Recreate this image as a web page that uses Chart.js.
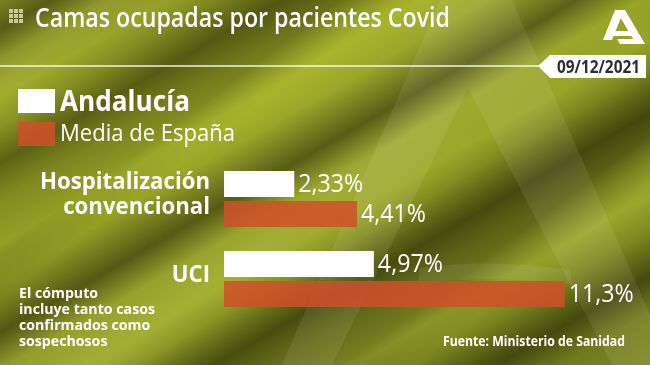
<!DOCTYPE html>
<html>
<head>
<meta charset="utf-8">
<script src="https://cdn.jsdelivr.net/npm/chart.js@4.4.0/dist/chart.umd.min.js"></script>
<style>
  html, body { margin: 0; padding: 0; }
  body {
    width: 650px; height: 365px; overflow: hidden; position: relative;
    font-family: 'Open Sans', 'Noto Sans', sans-serif; color: #fff;
    background:
      linear-gradient(150deg,
        rgba(0,0,0,0) 0%, rgba(30,35,0,.45) 4%, rgba(0,0,0,0) 8%,
        rgba(205,220,60,.28) 13%, rgba(0,0,0,0) 17%, rgba(30,35,0,.42) 22%,
        rgba(0,0,0,0) 27%, rgba(210,225,60,.34) 33%, rgba(0,0,0,0) 38%,
        rgba(20,25,0,.52) 45%, rgba(0,0,0,0) 50%, rgba(200,215,60,.26) 56%,
        rgba(0,0,0,0) 60%, rgba(25,30,0,.5) 66%, rgba(0,0,0,0) 71%,
        rgba(210,225,70,.32) 77%, rgba(0,0,0,0) 82%, rgba(20,25,0,.52) 88%,
        rgba(0,0,0,0) 93%, rgba(200,210,60,.22) 100%),
      linear-gradient(143deg,
        rgba(0,0,0,0) 0%, rgba(235,240,120,.14) 10%, rgba(0,0,0,0) 14%,
        rgba(20,20,0,.28) 30%, rgba(0,0,0,0) 35%, rgba(235,240,120,.16) 52%,
        rgba(0,0,0,0) 57%, rgba(20,20,0,.34) 73%, rgba(0,0,0,0) 79%),
      linear-gradient(160deg, #7a8220 0%, #99a427 35%, #8a9624 60%, #6a751b 100%);
  }
  .tx { position: absolute; white-space: nowrap; line-height: 1; }
  svg, canvas { position: absolute; left: 0; top: 0; }
</style>
</head>
<body>
<svg width="650" height="365" viewBox="0 0 650 365">
  <!-- watermark A -->
  <path fill="#fff" fill-opacity="0.08" fill-rule="evenodd"
        d="M440 0 L512 0 L672 365 L282 365 Z M468 88 L612 365 L332 365 Z"/>
  <path fill="#fff" fill-opacity="0.07" d="M420 268 Q490 258 570 270 L572 285 Q490 274 418 284 Z"/>
  <!-- header icon -->
  <g fill="#e3e4b8" fill-opacity="0.8">
    <rect x="9" y="9" width="4" height="4"/><rect x="14" y="9" width="4" height="4"/><rect x="19" y="9" width="4" height="4"/>
    <rect x="9" y="14" width="4" height="4"/><rect x="14" y="14" width="4" height="4"/><rect x="19" y="14" width="4" height="4"/>
    <rect x="9" y="19" width="4" height="4"/><rect x="14" y="19" width="4" height="4"/><rect x="19" y="19" width="4" height="4"/>
  </g>
  <!-- logo -->
  <g fill="#fff">
    <path d="M615 10 L624 10 L612 40 L603 40 Z"/>
    <path d="M616 10 L625 10 L645 44 L636 44 Z"/>
    <path d="M612 31 L631 31 L633 36 L610 36 Z"/>
    <path d="M617 39 L640 39 L645 44 L620 44 Z"/>
  </g>
  <!-- rule and date box -->
  <line x1="0" y1="66" x2="540" y2="66" stroke="#fff" stroke-opacity="0.9" stroke-width="1.5"/>
  <path fill="#fff" d="M538 66 L550 55 L646 55 L646 78 L550 78 Z"/>
  <!-- legend swatches -->
  <rect x="18" y="89" width="37" height="24" fill="#fff"/>
  <rect x="18" y="122" width="37" height="24" fill="rgba(207,80,41,0.85)"/>
</svg>
<canvas id="c" width="650" height="365"></canvas>

<div class="tx" id="title" style="left:35px;top:3px;font-size:27px;font-weight:600">Camas ocupadas por pacientes Covid</div>
<div class="tx" id="date" style="left:557px;top:57px;font-size:18px;font-weight:700;color:#2e2e2e">09/12/2021</div>
<div class="tx" id="lg1" style="left:60px;top:86px;font-size:28px;font-weight:700">Andalucía</div>
<div class="tx" id="lg2" style="left:60px;top:120px;font-size:24px;font-weight:400">Media de España</div>
<div class="tx note" style="left:19px;top:285px;font-size:15px;font-weight:700">El cómputo</div>
<div class="tx note" id="noteW" style="left:19px;top:301px;font-size:15px;font-weight:700">incluye tanto casos</div>
<div class="tx note" style="left:19px;top:317px;font-size:15px;font-weight:700">confirmados como</div>
<div class="tx note" style="left:19px;top:333px;font-size:15px;font-weight:700">sospechosos</div>
<div class="tx" id="src" style="left:443px;top:334px;font-size:14px;font-weight:700">Fuente: Ministerio de Sanidad</div>

<script>
const categories = [['Hospitalización', 'convencional'], ['UCI']]
const seriesNames = ['Andalucía', 'Media de España']
const andalucia = [2.33, 4.97]
const espana = [4.41, 11.3]

const WHITE = '#ffffff'
const ORANGE = 'rgba(207,80,41,0.85)'
const FONT = "'Open Sans', 'Noto Sans', sans-serif"

// squeeze html text to the width it has in the picture
function fit (el, width, origin) {
  const w = el.getBoundingClientRect().width
  const s = width / w
  el.style.transformOrigin = origin || 'left center'
  el.style.transform = 'scaleX(' + s + ')'
  return s
}
fit(document.getElementById('title'), 415)
fit(document.getElementById('date'), 83)
fit(document.getElementById('lg1'), 130)
fit(document.getElementById('lg2'), 175)
const ns = fit(document.getElementById('noteW'), 136)
document.querySelectorAll('.note').forEach(el => {
  el.style.transformOrigin = 'left center'
  el.style.transform = 'scaleX(' + ns + ')'
})
fit(document.getElementById('src'), 182)

const fmt = v => String(v).replace('.', ',') + '%'

function squeezedText (ctx, text, x, y, sx) {
  ctx.save()
  ctx.translate(x, y)
  ctx.scale(sx, 1)
  ctx.fillText(text, 0, 0)
  ctx.restore()
}

const labelsPlugin = {
  id: 'labels',
  afterDatasetsDraw (chart) {
    const ctx = chart.ctx
    const yScale = chart.scales.y
    const left = chart.chartArea.left

    // category names
    ctx.save()
    ctx.fillStyle = WHITE
    ctx.font = '700 24px ' + FONT
    ctx.textAlign = 'right'
    ctx.textBaseline = 'middle'
    const sxCat = 170 / ctx.measureText('Hospitalización').width
    categories.forEach((lines, i) => {
      const yc = yScale.getPixelForValue(i) - 4
      const lh = 25
      lines.forEach((line, j) => {
        const y = yc + (j - (lines.length - 1) / 2) * lh
        squeezedText(ctx, line, left - 14, y, sxCat)
      })
    })

    // values
    ctx.font = '400 26px ' + FONT
    ctx.textAlign = 'left'
    const sxVal = 65 / ctx.measureText('2,33%').width
    chart.data.datasets.forEach((ds, d) => {
      chart.getDatasetMeta(d).data.forEach((bar, i) => {
        squeezedText(ctx, fmt(ds.data[i]), bar.x + 4, bar.y + 1, sxVal)
      })
    })
    ctx.restore()
  }
}

new Chart(document.getElementById('c'), {
  type: 'bar',
  data: {
    labels: categories,
    datasets: [
      { label: seriesNames[0], data: andalucia, backgroundColor: WHITE },
      { label: seriesNames[1], data: espana, backgroundColor: ORANGE }
    ]
  },
  options: {
    indexAxis: 'y',
    responsive: false,
    devicePixelRatio: 1,
    animation: false,
    layout: { padding: { left: 224, right: 34, top: 159, bottom: 46 } },
    datasets: {
      bar: { categoryPercentage: 0.75, barPercentage: 0.8667, borderWidth: 0 }
    },
    scales: {
      x: { display: false, min: 0, max: 13 },
      y: { display: false }
    },
    plugins: {
      legend: { display: false },
      tooltip: { enabled: false }
    }
  },
  plugins: [labelsPlugin]
})
</script>
</body>
</html>
